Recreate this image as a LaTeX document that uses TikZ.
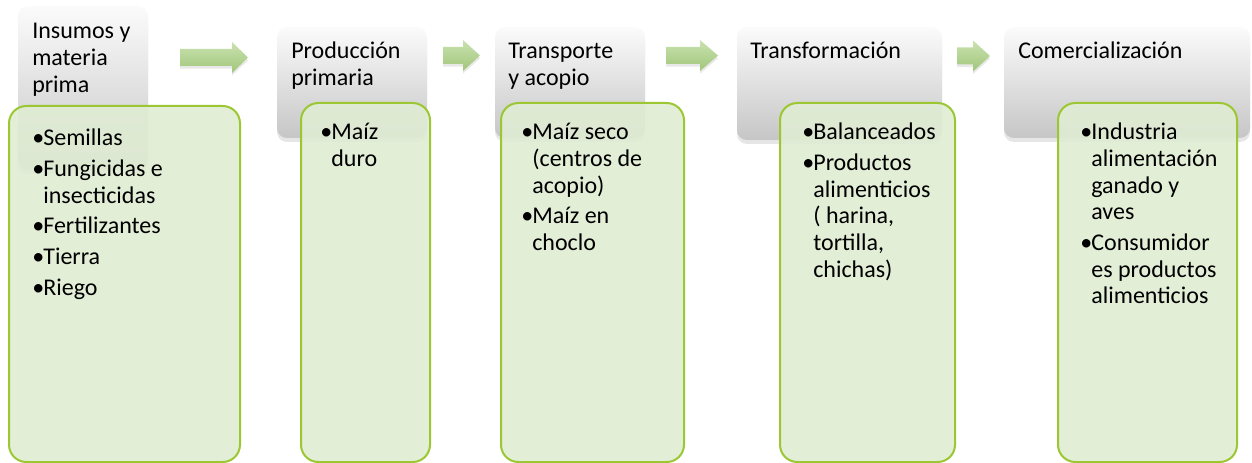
\documentclass[tikz,border=0pt]{standalone}
\usepackage{fontspec}
\setmainfont{Carlito}
\usetikzlibrary{fit,shadows}
\definecolor{hdrtop}{RGB}{251,251,251}
\definecolor{hdrbot}{RGB}{198,198,198}
\definecolor{detfill}{RGB}{224,236,211}
\definecolor{detline}{RGB}{155,200,50}
\definecolor{arrtop}{RGB}{202,226,176}
\definecolor{arrbot}{RGB}{160,198,122}
\newcommand\bul{\makebox[8.3pt][l]{•}}
\newcommand\ind{\hspace*{8.3pt}}
\newcommand\blockarr[4]{%
  \path[arrstyle] (#1,#4-8.5) -- (#2,#4-8.5) -- (#2,#4-15.5) -- (#3,#4)
    -- (#2,#4+15.5) -- (#2,#4+8.5) -- (#1,#4+8.5) -- cycle;}
\begin{document}
\begin{tikzpicture}[x=0.75pt,y=-0.75pt,
  hdr/.style={rounded corners=7.5pt, top color=hdrtop, bottom color=hdrbot,
    draw=none, inner sep=0pt,
    drop shadow={shadow xshift=0pt, shadow yshift=-3pt, opacity=0.2}},
  det/.style={rounded corners=13pt, fill=detfill, fill opacity=0.9,
    draw=detline, line width=1.5pt, inner sep=0pt},
  arrstyle/.style={top color=arrtop, bottom color=arrbot,
    drop shadow={shadow xshift=0pt, shadow yshift=-2pt, opacity=0.18}},
  txt/.style={anchor=base west, inner sep=0pt, text=black,
    font=\fontsize{18}{20}\selectfont}]
\useasboundingbox (0,0) rectangle (1252,463);

% header boxes
\node[hdr, fit={(18,6)(148,170)}] (h1) {};
\node[hdr, fit={(277,27)(427,138)}] (h2) {};
\node[hdr, fit={(495,27)(645,138)}] (h3) {};
\node[hdr, fit={(737,27)(942,140)}] (h4) {};
\node[hdr, fit={(1004,27)(1250,138)}] (h5) {};

% block arrows
\blockarr{180}{232}{248}{57.5}
\blockarr{443}{463}{480}{55.5}
\blockarr{666}{700}{718}{55.5}
\blockarr{957}{973}{990}{56}

% detail boxes
\node[det, fit={(9,106)(240,462)}] (d1) {};
\node[det, fit={(301,103)(430,462)}] (d2) {};
\node[det, fit={(501,103)(684,462)}] (d3) {};
\node[det, fit={(780,103)(955,462)}] (d4) {};
\node[det, fit={(1058,103)(1237,462)}] (d5) {};

% header texts
\node[txt] (ht1) at (32,39) {\begin{tabular}[t]{@{}l@{}}Insumos y\\materia\\prima\end{tabular}};
\node[txt] (ht2) at (291,59) {\begin{tabular}[t]{@{}l@{}}Producción\\primaria\end{tabular}};
\node[txt] (ht3) at (508,59) {\begin{tabular}[t]{@{}l@{}}Transporte\\y acopio\end{tabular}};
\node[txt] (ht4) at (750,59) {Transformación};
\node[txt] (ht5) at (1018,59) {Comercialización};

% detail texts
\node[txt] (dt1) at (32,146) {\begin{tabular}[t]{@{}l@{}}
\bul Semillas\\[3pt]
\bul Fungicidas e\\
\ind insecticidas\\[3pt]
\bul Fertilizantes\\[3pt]
\bul Tierra\\[3pt]
\bul Riego\end{tabular}};
\node[txt] (dt2) at (320,140) {\begin{tabular}[t]{@{}l@{}}
\bul Maíz\\
\ind duro\end{tabular}};
\node[txt] (dt3) at (521,140) {\begin{tabular}[t]{@{}l@{}}
\bul Maíz seco\\
\ind \smash{(centros de}\\
\ind \smash{acopio)}\\[3pt]
\bul Maíz en\\
\ind choclo\end{tabular}};
\node[txt] (dt4) at (802,140) {\begin{tabular}[t]{@{}l@{}}
\bul Balanceados\\[3pt]
\bul Productos\\
\ind alimenticios\\
\ind \smash{( harina,}\\
\ind tortilla,\\
\ind \smash{chichas)}\end{tabular}};
\node[txt] (dt5) at (1080,140) {\begin{tabular}[t]{@{}l@{}}
\bul Industria\\
\ind alimentación\\
\ind ganado y\\
\ind aves\\[3pt]
\bul Consumidor\\
\ind es productos\\
\ind alimenticios\end{tabular}};
\end{tikzpicture}
\end{document}
